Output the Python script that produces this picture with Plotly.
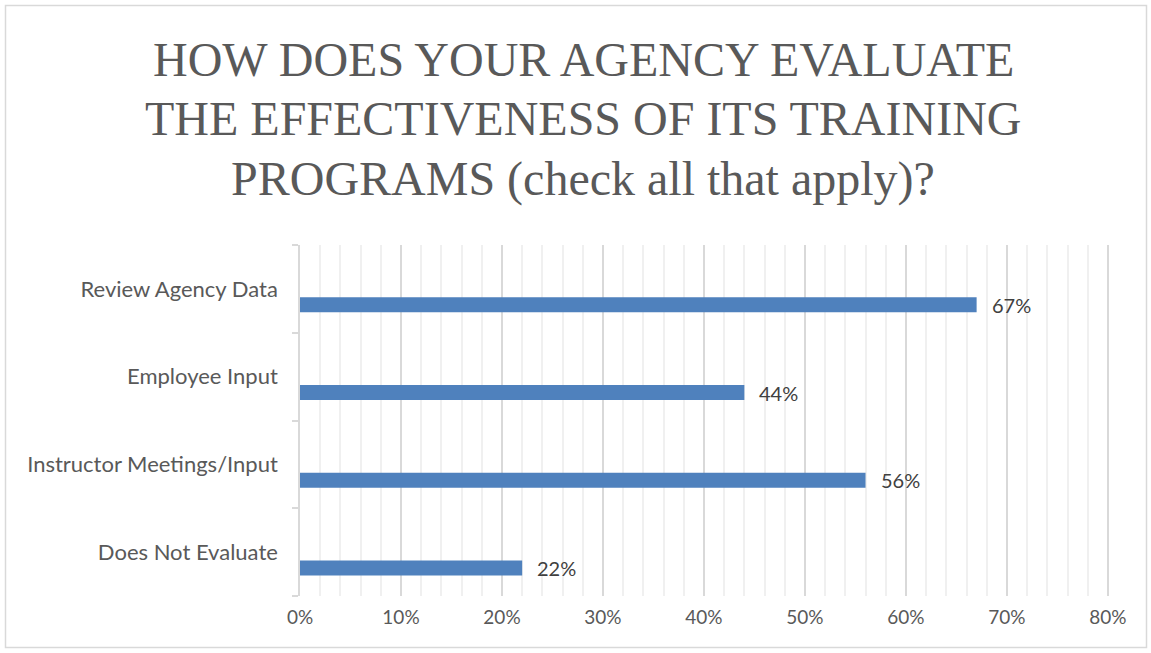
import plotly.graph_objects as go

categories = ["Does Not Evaluate", "Instructor Meetings/Input", "Employee Input", "Review Agency Data"]
values = [0.22, 0.56, 0.44, 0.67]
value_labels = ["22%", "56%", "44%", "67%"]
x_tick_vals = [0, 0.1, 0.2, 0.3, 0.4, 0.5, 0.6, 0.7, 0.8]
x_tick_text = ["0%", "10%", "20%", "30%", "40%", "50%", "60%", "70%", "80%"]
title_lines = ["HOW DOES YOUR AGENCY EVALUATE",
               "THE EFFECTIVENESS OF ITS TRAINING",
               "PROGRAMS (check all that apply)?"]

W, H = 1151, 653
ml, mr, mt, mb = 300, 33, 245, 57
pw, ph = W - ml - mr, H - mt - mb


def px2paper_x(px):
    return (px - ml) / pw


def px2paper_y(py):
    return (H - mb - py) / ph


fig = go.Figure()
fig.add_trace(go.Bar(
    x=values, y=categories, orientation="h",
    marker=dict(color="#4f81bd", line=dict(width=0)),
    width=0.17, offset=-0.265,
    hoverinfo="skip",
))

# value labels beside the bar ends
for cat, v, lab in zip(categories, values, value_labels):
    fig.add_annotation(x=v, y=cat, xref="x", yref="y", text=lab, showarrow=False,
                       xanchor="left", yanchor="middle", xshift=13, yshift=-16,
                       font=dict(family="Lato, sans-serif", size=20, color="#404040"))

# title, one annotation per line
title_centers = [59.5, 119.0, 178.5]
for line, cy in zip(title_lines, title_centers):
    fig.add_annotation(x=px2paper_x(583), y=px2paper_y(cy), xref="paper", yref="paper",
                       text=line, showarrow=False, xanchor="center", yanchor="middle",
                       font=dict(family="Liberation Serif, serif", size=48, color="#595959"))

fig.add_shape(type="rect", xref="paper", yref="paper",
              x0=px2paper_x(5.5), x1=px2paper_x(1146.5),
              y0=px2paper_y(647.5), y1=px2paper_y(5.5),
              line=dict(color="#d9d9d9", width=1.5), fillcolor="rgba(0,0,0,0)", layer="below")

fig.update_layout(
    width=W, height=H,
    margin=dict(l=ml, r=mr, t=mt, b=mb),
    paper_bgcolor="white", plot_bgcolor="white",
    showlegend=False,
    xaxis=dict(range=[0, 0.81], tickvals=x_tick_vals, ticktext=x_tick_text,
               showgrid=True, gridcolor="#d9d9d9", gridwidth=1.5,
               minor=dict(tickvals=[i / 50 for i in range(41) if i % 5], showgrid=True,
                          gridcolor="#f0f0f0", gridwidth=1.5),
               zeroline=False, showline=False, ticks="", ticklabelstandoff=8,
               tickfont=dict(family="Lato, sans-serif", size=19, color="#595959"),
               fixedrange=True),
    yaxis=dict(categoryorder="array", categoryarray=categories,
               showline=True, linecolor="#d9d9d9", linewidth=1.5,
               ticks="outside", tickson="boundaries", ticklen=6, tickcolor="#d9d9d9", tickwidth=1.5,
               showgrid=False, zeroline=False, ticklabelstandoff=16,
               tickfont=dict(family="Lato, sans-serif", size=22, color="#595959"),
               fixedrange=True),
    bargap=0.8,
)

fig.write_html("out.html", config={"displayModeBar": False},
               post_script="document.body.style.margin='0';")
